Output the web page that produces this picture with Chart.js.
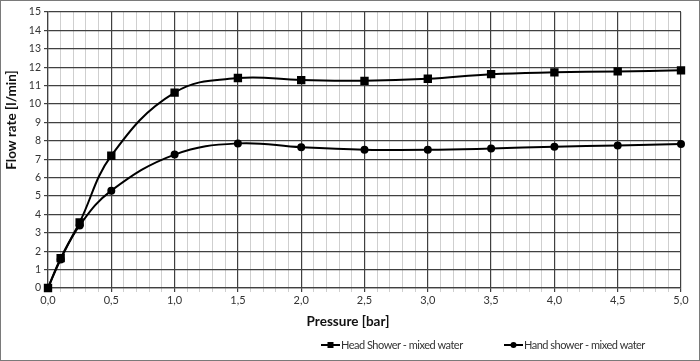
<!DOCTYPE html>
<html>
<head>
<meta charset="utf-8">
<script src="https://cdn.jsdelivr.net/npm/chart.js@4"></script>
<style>
    html, body { margin: 0; padding: 0; background: #fff; }
    #wrap { width: 700px; height: 361px; }
</style>
</head>
<body>
<div id="wrap"><canvas id="flowChart" width="700" height="361"></canvas></div>
<script>
// data
const pressure = [0, 0.1, 0.25, 0.5, 1.0, 1.5, 2.0, 2.5, 3.0, 3.5, 4.0, 4.5, 5.0];
const headShower = [0, 1.62, 3.57, 7.19, 10.62, 11.41, 11.30, 11.26, 11.37, 11.62, 11.72, 11.77, 11.83];
const handShower = [0, 1.55, 3.40, 5.29, 7.25, 7.86, 7.65, 7.52, 7.51, 7.58, 7.68, 7.75, 7.83];
const seriesNames = ["Head Shower - mixed water", "Hand shower - mixed water"];
const xTitle = "Pressure [bar]";
const yTitle = "Flow rate [l/min]";

const FONT = "Lato, 'Open Sans', sans-serif";
const majorX = v => Math.round(v * 10) % 5 === 0;

function toPoints(ys) {
    return pressure.map((x, i) => ({ x: x, y: ys[i] }));
}

// axis titles and legend drawn by hand (they sit off-centre in the original),
// plus the thin frame round the whole chart
const titlesAndLegend = {
    id: "titlesAndLegend",
    afterDraw(chart) {
        const c = chart.ctx;
        c.save();
        c.strokeStyle = "#7a7a7a";
        c.lineWidth = 1;
        c.strokeRect(0.5, 0.5, chart.width - 1, chart.height - 1);

        c.fillStyle = "#111";
        c.font = "bold 13.5px " + FONT;
        c.textAlign = "center";
        c.textBaseline = "middle";
        c.fillText(xTitle, 348, 322);

        c.save();
        c.translate(12, 120);
        c.rotate(-Math.PI / 2);
        c.fillText(yTitle, 0, 0);
        c.restore();

        const starts = [321, 504];
        const y = 345;
        c.textAlign = "left";
        chart.data.datasets.forEach((ds, i) => {
            const x0 = starts[i];
            c.strokeStyle = "#000";
            c.lineWidth = 2;
            c.beginPath();
            c.moveTo(x0, y);
            c.lineTo(x0 + 19, y);
            c.stroke();
            c.fillStyle = "#000";
            if (ds.pointStyle === "rect") {
                c.fillRect(x0 + 6.5, y - 3, 6, 6);
            } else {
                c.beginPath();
                c.arc(x0 + 9.5, y, 3, 0, Math.PI * 2);
                c.fill();
            }
            c.fillStyle = "#333";
            c.font = "11px " + FONT;
            c.letterSpacing = "-0.5px";
            c.fillText(ds.label, x0 + 20, y);
            c.letterSpacing = "0px";
        });
        c.restore();
    }
};

new Chart(document.getElementById("flowChart"), {
    type: "scatter",
    data: {
        datasets: [
            {
                label: seriesNames[0],
                data: toPoints(headShower),
                showLine: true,
                tension: 0.4,
                clip: false,
                borderColor: "#000",
                backgroundColor: "#000",
                borderWidth: 2,
                pointStyle: "rect",
                pointRadius: 4.5,
                pointHoverRadius: 4.5,
                order: 0
            },
            {
                label: seriesNames[1],
                data: toPoints(handShower),
                showLine: true,
                tension: 0.4,
                clip: false,
                borderColor: "#000",
                backgroundColor: "#000",
                borderWidth: 2,
                pointStyle: "circle",
                pointRadius: 3,
                pointHoverRadius: 3,
                order: 1
            }
        ]
    },
    options: {
        responsive: false,
        animation: false,
        layout: { padding: { top: 12, right: 19, bottom: 29, left: 0 } },
        plugins: {
            legend: { display: false },
            tooltip: { enabled: false }
        },
        scales: {
            x: {
                type: "linear",
                min: 0,
                max: 5,
                afterFit: s => { s.height = 44; },
                ticks: {
                    stepSize: 0.1,
                    autoSkip: false,
                    maxRotation: 0,
                    padding: 2,
                    color: "#333",
                    font: { family: FONT, size: 11 },
                    callback: v => majorX(v) ? v.toFixed(1).replace(".", ",") : ""
                },
                grid: {
                    color: ctx => (ctx.tick && majorX(ctx.tick.value)) ? "#404040" : "#cfcfcf",
                    lineWidth: ctx => (ctx.tick && majorX(ctx.tick.value)) ? 1.2 : 1,
                    tickLength: 4
                },
                border: { color: "#404040", width: 1.2 }
            },
            y: {
                min: 0,
                max: 15,
                afterFit: s => { s.width = 48; },
                ticks: {
                    stepSize: 1,
                    padding: 3,
                    color: "#333",
                    font: { family: FONT, size: 10.5 }
                },
                grid: { color: "#404040", lineWidth: 1.2, tickLength: 4 },
                border: { color: "#404040", width: 1.2 }
            }
        }
    },
    plugins: [titlesAndLegend]
});
</script>
</body>
</html>
